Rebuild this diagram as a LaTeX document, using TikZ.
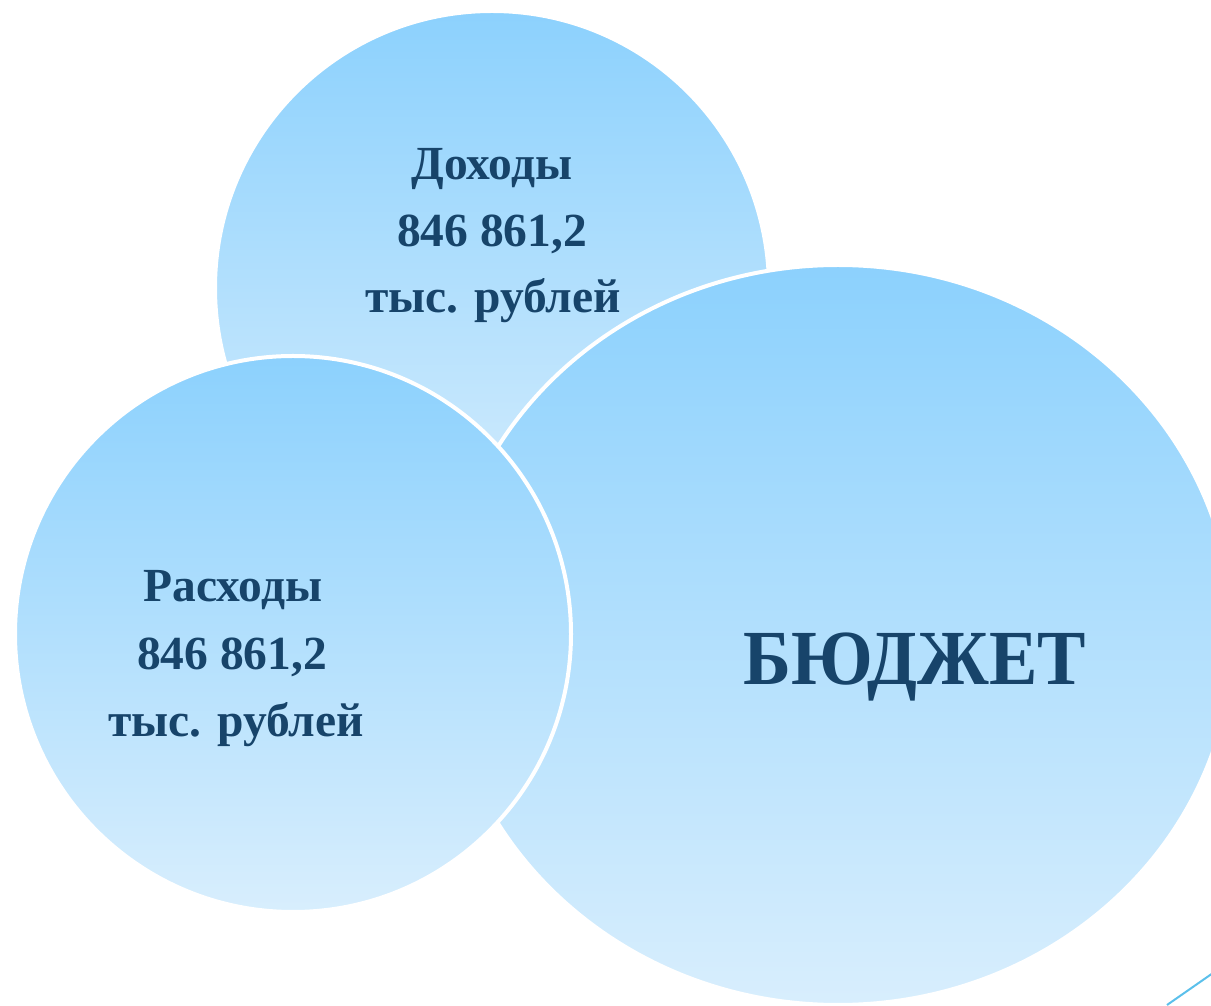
\documentclass[tikz,border=0pt]{standalone}
\usepackage{fontspec}
\setmainfont{Liberation Serif}
\definecolor{ctop}{HTML}{8CD1FD}
\definecolor{cbot}{HTML}{D8EEFD}
\definecolor{ink}{HTML}{17446A}
\definecolor{deco}{HTML}{5BC0EB}
\tikzset{
  bubble/.style={top color=ctop, bottom color=cbot, draw=white, line width=4pt},
  lbl/.style={text=ink, font=\bfseries\fontsize{47.5}{55}\selectfont, anchor=base, inner sep=0pt},
  big/.style={text=ink, font=\bfseries\fontsize{78}{90}\selectfont, anchor=base, inner sep=0pt}
}
\begin{document}
\begin{tikzpicture}[x=1pt,y=1pt]
\useasboundingbox (0,0) rectangle (1211,1005);
\clip (0,0) rectangle (1211,1005);
% top circle (Доходы)
\path[bubble] (492,717) circle [radius=277];
% big ellipse (БЮДЖЕТ)
\path[bubble] (838,370) ellipse [x radius=395, y radius=370];
% left circle (Расходы)
\path[bubble] (293,371) circle [radius=278];
% texts
\node[lbl] (d1) at (492,825) {Доходы};
\node[lbl] (d2) at (492,758) {846 861,2};
\node[lbl] (d3) at (493,692) {тыс. рублей};
\node[lbl] (r1) at (233,403) {Расходы};
\node[lbl] (r2) at (232,335) {846 861,2};
\node[lbl] (r3) at (236,268) {тыс. рублей};
\node[big] (b) at (915,320) {\scalebox{0.93}[1]{БЮДЖЕТ}};
% decorative line
\coordinate (l1) at (1167,0);
\coordinate (l2) at (1213,32);
\draw[deco, line width=2pt] (l1) -- (l2);
\end{tikzpicture}
\end{document}
